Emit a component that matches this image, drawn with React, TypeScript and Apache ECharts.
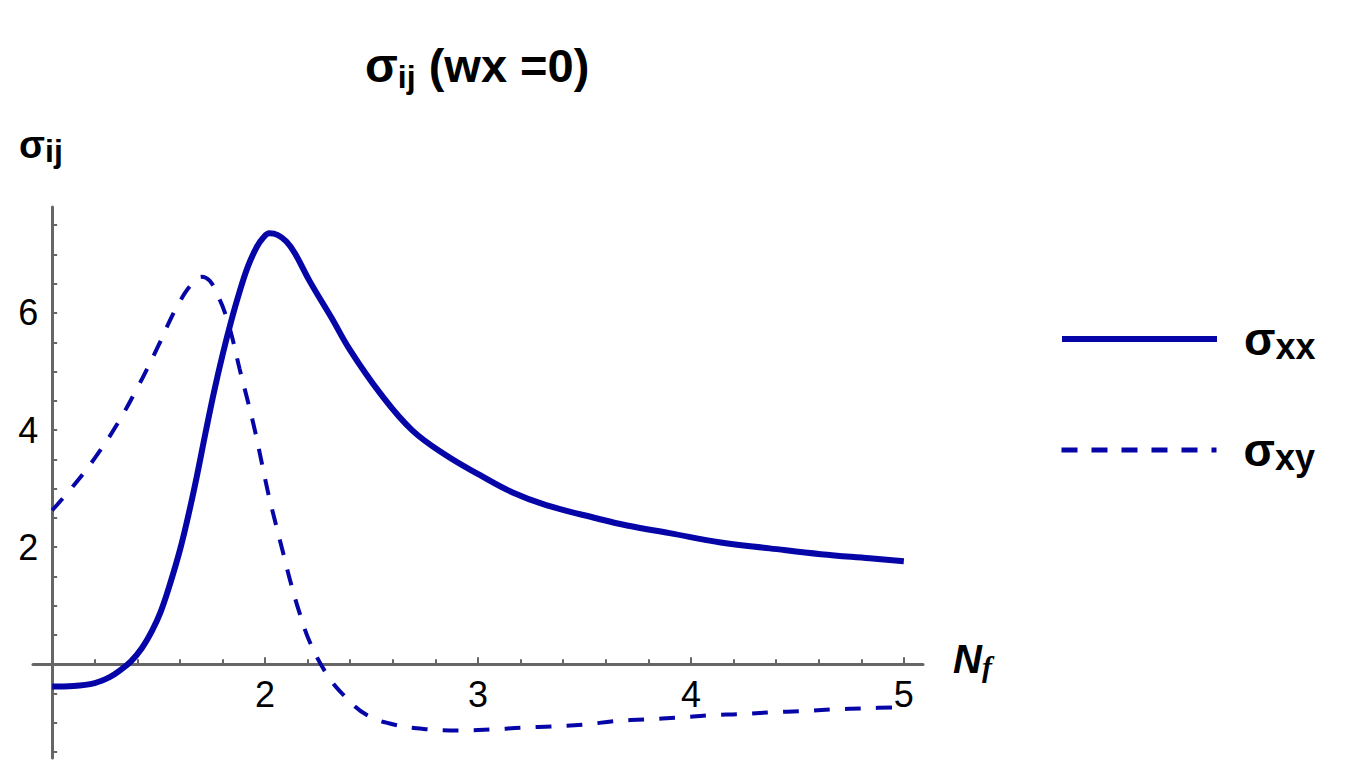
import React, { useEffect, useRef } from "react";
import * as echarts from "echarts";

// σxx (solid)
const xxX = [1.0, 1.1, 1.2, 1.27, 1.32, 1.37, 1.42, 1.47, 1.51, 1.55, 1.6, 1.64, 1.68, 1.72, 1.76, 1.8, 1.84, 1.88, 1.92, 1.96, 1.99, 2.02, 2.06, 2.1, 2.14, 2.21, 2.31, 2.4, 2.54, 2.69, 2.85, 3.01, 3.16, 3.32, 3.56, 3.7, 3.9, 4.14, 4.37, 4.61, 4.84, 5.0];
const xxY = [-0.38, -0.37, -0.32, -0.22, -0.1, 0.05, 0.27, 0.58, 0.9, 1.33, 1.95, 2.55, 3.22, 3.95, 4.65, 5.28, 5.85, 6.36, 6.8, 7.12, 7.28, 7.36, 7.33, 7.22, 7.02, 6.54, 5.93, 5.36, 4.63, 4.0, 3.57, 3.23, 2.94, 2.72, 2.49, 2.37, 2.24, 2.08, 1.98, 1.88, 1.81, 1.76];

// σxy (dashed)
const xyX = [1.0, 1.1, 1.2, 1.3, 1.4, 1.5, 1.55, 1.6, 1.65, 1.7, 1.74, 1.78, 1.81, 1.845, 1.88, 1.92, 1.955, 1.985, 2.015, 2.05, 2.085, 2.12, 2.16, 2.21, 2.29, 2.37, 2.48, 2.62, 2.77, 2.92, 3.07, 3.21, 3.35, 3.5, 3.64, 3.79, 3.94, 4.09, 4.23, 4.38, 4.52, 4.67, 4.82, 5.0];
const xyY = [2.63, 3.05, 3.52, 4.07, 4.72, 5.45, 5.85, 6.2, 6.47, 6.62, 6.55, 6.28, 6.02, 5.59, 5.05, 4.48, 3.95, 3.43, 2.92, 2.4, 1.9, 1.4, 0.9, 0.38, -0.17, -0.53, -0.87, -1.04, -1.11, -1.13, -1.11, -1.08, -1.06, -1.03, -0.97, -0.94, -0.91, -0.87, -0.85, -0.82, -0.8, -0.77, -0.75, -0.73];

// ticks
const xTickLabels = [2, 3, 4, 5];
const xMinorTicks = [1.2, 1.4, 1.6, 1.8, 2.2, 2.4, 2.6, 2.8, 3.2, 3.4, 3.6, 3.8, 4.2, 4.4, 4.6, 4.8];
const yTickLabels = [2, 4, 6];
const yTicks = [-1.5, -1, -0.5, 0.5, 1, 1.5, 2, 2.5, 3, 3.5, 4, 4.5, 5, 5.5, 6, 6.5, 7, 7.5];

const X_MIN = 0.91;
const X_MAX = 5.09;
const Y_MIN = -1.6;
const Y_MAX = 7.81;

const BLUE = "#0505a8";
const AXIS = "#666666";
const FONT = "'Liberation Sans', Arial, sans-serif";

export default function App() {
  const ref = useRef<HTMLDivElement>(null);
  useEffect(() => {
    if (!ref.current) return;
    const chart = echarts.init(ref.current, undefined, { renderer: "svg" });
    const gridLeft = 33;
    const gridTop = 207;
    const gridWidth = 890;
    const gridHeight = 551;
    // shift the y axis so that it crosses the x axis at x = 1
    const yOffset = -((1 - X_MIN) / (X_MAX - X_MIN)) * gridWidth;
    // shift the x axes up onto y = 0
    const xZeroOffset = -((0 - Y_MIN) / (Y_MAX - Y_MIN)) * gridHeight;

    const xx = xxX.map((x, i) => [x, xxY[i]]);
    const xy = xyX.map((x, i) => [x, xyY[i]]);

    const legendRich = {
      s: { fontFamily: FONT, fontSize: 46, fontWeight: "bold", color: "#000", lineHeight: 50, padding: [0, 0, 0, 22] },
      b: { fontFamily: FONT, fontSize: 36, fontWeight: "bold", color: "#000", lineHeight: 28, verticalAlign: "bottom" },
    };

    chart.setOption({
      animation: false,
      backgroundColor: "#ffffff",
      title: [
        {
          text: "{s|σ}{sub|ij}{t| (wx =0)}",
          left: 360,
          top: 32,
          textStyle: {
            rich: {
              s: { fontFamily: FONT, fontSize: 48, fontWeight: "bold", color: "#000", lineHeight: 56 },
              sub: { fontFamily: FONT, fontSize: 32, fontWeight: "bold", color: "#000", lineHeight: 30, verticalAlign: "bottom" },
              t: { fontFamily: FONT, fontSize: 47, fontWeight: "bold", color: "#000", lineHeight: 56 },
            },
          },
        },
        {
          text: "{s|σ}{sub|ij}",
          left: 14,
          top: 118,
          textStyle: {
            rich: {
              s: { fontFamily: FONT, fontSize: 38, color: "#000", lineHeight: 44 },
              sub: { fontFamily: FONT, fontSize: 32, color: "#000", lineHeight: 28, verticalAlign: "bottom" },
            },
          },
        },
        {
          text: "{n|N}{sub|f}",
          left: 948,
          top: 632,
          textStyle: {
            rich: {
              n: { fontFamily: FONT, fontSize: 40, fontStyle: "italic", color: "#000", lineHeight: 44 },
              sub: { fontFamily: "'Liberation Serif', serif", fontSize: 30, fontStyle: "italic", color: "#000", lineHeight: 28, verticalAlign: "bottom" },
            },
          },
        },
      ],
      legend: [
        {
          data: [{ name: "σxx", lineStyle: { width: 6 } }],
          orient: "vertical",
          left: 1054,
          top: 311,
          itemWidth: 155,
          itemHeight: 20,
          itemStyle: { opacity: 0 },
          formatter: (n: string) => `{s|σ}{b|${n.slice(1)}}`,
          textStyle: { rich: legendRich },
          selectedMode: false,
        },
        {
          data: [{ name: "σxy", lineStyle: { width: 5, type: [16, 14] } }],
          orient: "vertical",
          left: 1054,
          top: 422,
          itemWidth: 155,
          itemHeight: 20,
          itemStyle: { opacity: 0 },
          formatter: (n: string) => `{s|σ}{b|${n.slice(1)}}`,
          textStyle: { rich: legendRich },
          selectedMode: false,
        },
      ],
      grid: {
        left: gridLeft,
        top: gridTop,
        width: gridWidth,
        height: gridHeight,
        containLabel: false,
        outerBoundsMode: "none",
      },
      xAxis: [
        {
          type: "value",
          min: X_MIN,
          max: X_MAX,
          position: "bottom",
          offset: xZeroOffset,
          axisLine: { show: true, onZero: false, lineStyle: { color: AXIS, width: 3 } },
          axisTick: { show: true, inside: true, length: 7, customValues: xTickLabels, lineStyle: { color: AXIS, width: 2 } },
          axisLabel: {
            show: true,
            customValues: xTickLabels,
            margin: 12,
            fontFamily: FONT,
            fontSize: 36,
            color: "#000",
            formatter: (v: number) => String(v),
          },
          splitLine: { show: false },
        },
        {
          type: "value",
          min: X_MIN,
          max: X_MAX,
          position: "bottom",
          offset: xZeroOffset,
          axisLine: { show: false, onZero: false },
          axisTick: { show: true, inside: true, length: 5, customValues: xMinorTicks, lineStyle: { color: AXIS, width: 2 } },
          axisLabel: { show: false },
          splitLine: { show: false },
        },
      ],
      yAxis: {
        type: "value",
        min: Y_MIN,
        max: Y_MAX,
        position: "left",
        offset: yOffset,
        axisLine: { show: true, onZero: false, lineStyle: { color: AXIS, width: 3 } },
        axisTick: { show: true, inside: true, length: 5, customValues: yTicks, lineStyle: { color: AXIS, width: 2 } },
        axisLabel: {
          show: true,
          customValues: yTickLabels,
          margin: 14,
          fontFamily: FONT,
          fontSize: 36,
          color: "#000",
          formatter: (v: number) => String(v),
        },
        splitLine: { show: false },
      },
      series: [
        {
          name: "σxx",
          type: "line",
          data: xx,
          xAxisIndex: 0,
          smooth: 0.4,
          symbol: "none",
          showSymbol: false,
          lineStyle: { color: BLUE, width: 6 },
          itemStyle: { color: BLUE },
          z: 3,
        },
        {
          name: "σxy",
          type: "line",
          data: xy,
          xAxisIndex: 0,
          smooth: 0.4,
          symbol: "none",
          showSymbol: false,
          lineStyle: { color: BLUE, width: 4, type: [16, 15] },
          itemStyle: { color: BLUE },
          z: 3,
        },
      ],
    });
    return () => chart.dispose();
  }, []);
  return (
    <div
      ref={ref}
      style={{ position: "fixed", left: 0, top: 0, width: 1357, height: 775, background: "#fff" }}
    />
  );
}
